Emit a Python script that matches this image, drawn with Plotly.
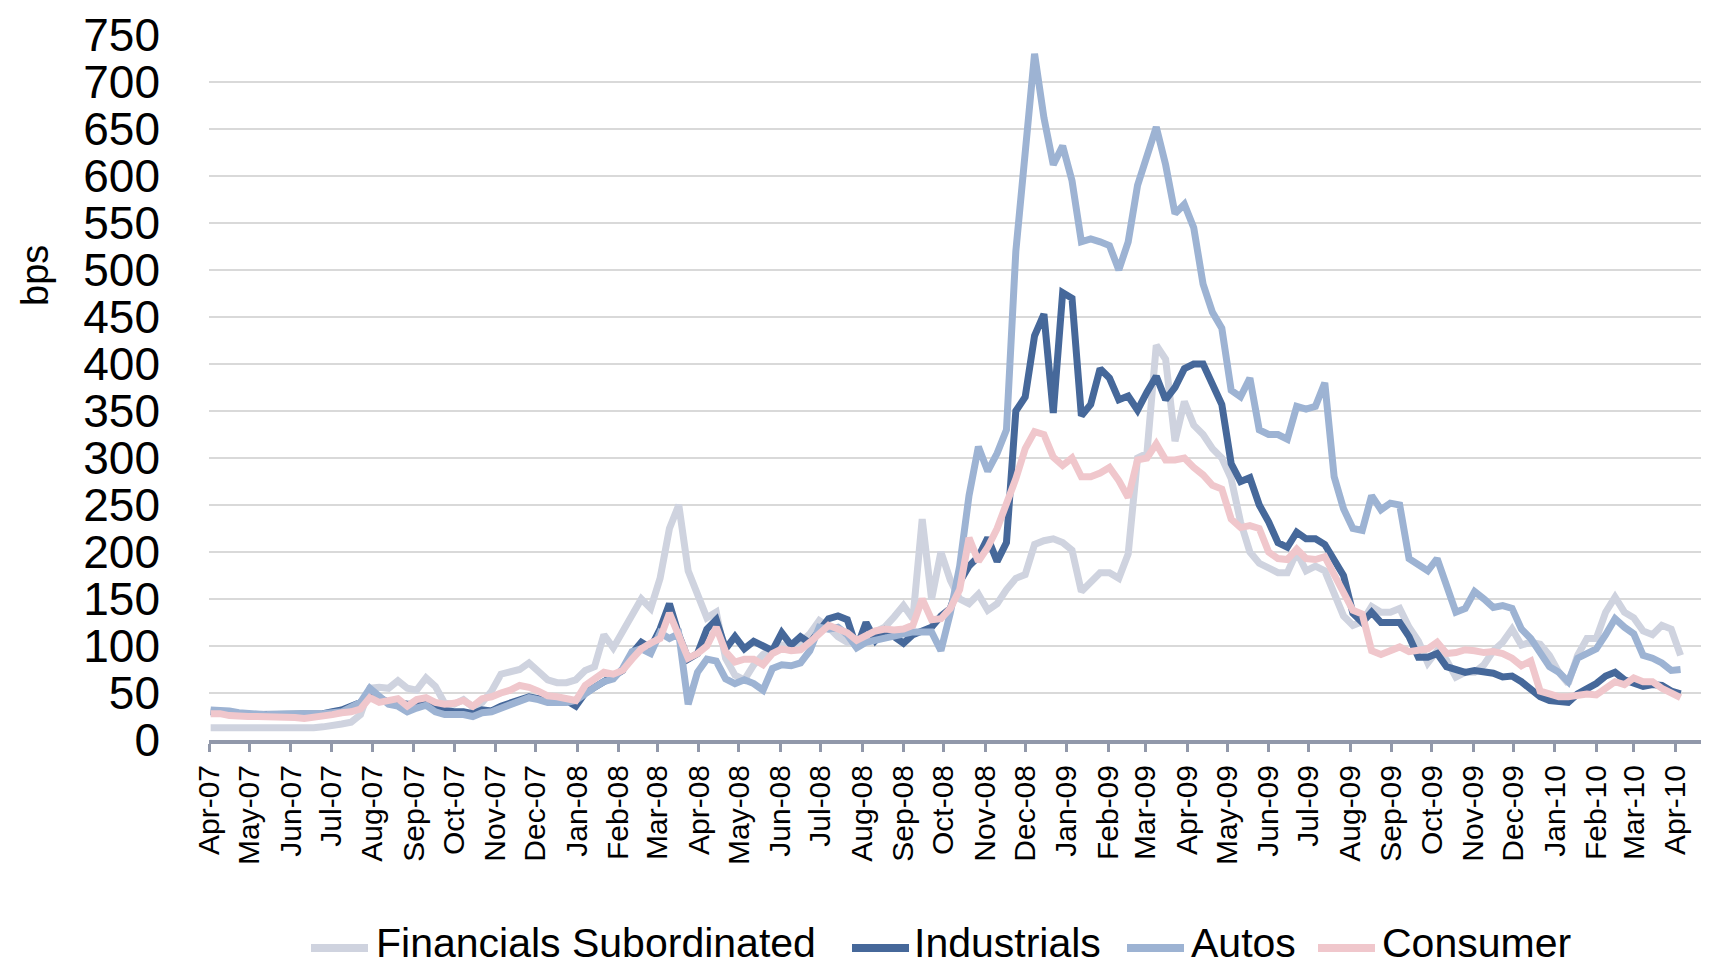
import pandas as pd
import plotly.graph_objects as go

# Weekly observations (bps), starting 2007-04-02
start_date = "2007-04-02"

financials_sub = [
    13, 13, 12, 12, 12, 12, 12, 12, 12, 12,
    12, 13, 14, 15, 17, 19, 27, 55, 56, 55,
    63, 55, 53, 66, 57, 39, 38, 43, 35, 40,
    52, 70, 73, 75, 82, 72, 64, 61, 61, 64,
    74, 78, 112, 98, 115, 134, 150, 140, 172, 225,
    250, 180, 155, 130, 136, 87, 69, 64, 80, 91,
    97, 101, 101, 104, 113, 127, 120, 110, 104, 106,
    110, 115, 120, 131, 143, 129, 235, 150, 200, 170,
    150, 145, 155, 138, 145, 160, 172, 176, 208, 212,
    214, 210, 202, 158, 168, 178, 178, 172, 198, 300,
    305, 420, 405, 318, 360, 335, 325, 310, 300, 278,
    232, 200, 188, 182, 178, 178, 200, 180, 185, 180,
    155, 132, 122, 126, 142, 136, 136, 140, 120, 105,
    82, 95, 85, 67, 72, 72, 80, 95, 104, 118,
    101, 104, 102, 90, 72, 60, 90, 108, 108, 136,
    152, 136, 130, 116, 112, 122, 118, 90,
]

industrials = [
    30, 29, 28, 28, 27, 27, 27, 27, 27, 27,
    27, 28, 28, 30, 32, 36, 40, 50, 46, 40,
    40, 38, 38, 42, 33, 31, 30, 30, 28, 32,
    31, 36, 40, 44, 46, 44, 44, 41, 42, 36,
    50, 56, 62, 68, 74, 92, 104, 98, 118, 145,
    112, 86, 92, 118, 128, 97, 110, 97, 105, 100,
    95, 114, 101, 110, 103, 116, 129, 132, 128, 98,
    125, 106, 117, 110, 103, 112, 117, 120, 132, 140,
    168, 185, 195, 215, 190, 210, 350, 365, 430, 453,
    348, 476, 470, 345, 357, 395, 385, 362, 366, 351,
    370, 387, 362, 375, 395, 400, 400, 378, 357, 294,
    275, 279, 250, 232, 210, 205, 221, 214, 214, 208,
    192, 175, 135, 125, 136, 125, 125, 125, 110, 88,
    88, 92, 78, 74, 72, 74, 72, 71, 67, 68,
    62, 55, 46, 42, 41, 40, 49, 54, 60, 68,
    72, 64, 61, 57, 59, 58, 52, 49,
]

autos = [
    32, 32, 31, 29, 28, 28, 27, 27, 27, 27,
    27, 27, 28, 29, 30, 35, 40, 55, 46, 38,
    36, 30, 34, 37, 30, 27, 27, 27, 25, 29,
    30, 34, 38, 43, 45, 43, 40, 40, 40, 42,
    50, 56, 62, 65, 76, 94, 97, 92, 114, 108,
    113, 38, 72, 86, 84, 65, 60, 64, 60, 53,
    76, 80, 79, 82, 95, 120, 118, 120, 112, 98,
    104, 106, 108, 110, 112, 115, 115, 115, 95, 135,
    185, 260, 312, 286, 305, 330, 520, 626, 730, 662,
    612, 632, 595, 530, 533, 530, 526, 500, 530, 590,
    620, 652, 612, 560, 570, 545, 485, 455, 438, 372,
    365, 385, 330, 325, 325, 320, 355, 352, 355, 380,
    280, 246, 225, 223, 260, 245, 252, 250, 193, 187,
    180, 193, 163, 136, 140, 158, 150, 141, 143, 140,
    118, 108, 93, 78, 72, 62, 87, 91, 97, 112,
    129, 120, 113, 90, 87, 82, 74, 75,
]

consumer = [
    28, 28, 26, 25, 25, 25, 25, 24, 24, 24,
    23, 24, 25, 27, 29, 30, 33, 45, 40, 42,
    44, 36, 43, 45, 40, 38, 39, 42, 36, 44,
    46, 50, 53, 58, 56, 52, 47, 46, 44, 42,
    58, 66, 72, 70, 74, 86, 97, 103, 108, 135,
    113, 87, 92, 100, 120, 94, 83, 86, 86, 80,
    92, 97, 95, 96, 104, 114, 122, 118, 114, 106,
    111, 116, 118, 117, 118, 122, 150, 128, 129, 140,
    160, 215, 190, 205, 225, 250, 278, 310, 328, 325,
    301, 292, 300, 280, 280, 284, 290, 276, 258, 298,
    300, 315, 298, 298, 300, 290, 282, 271, 267, 235,
    226, 228, 225, 200, 193, 192, 203, 193, 192, 195,
    175, 155, 138, 134, 95, 91, 95, 99, 94, 96,
    97, 104, 92, 93, 96, 95, 93, 94, 92, 87,
    79, 84, 52, 49, 46, 46, 48, 49, 48, 56,
    62, 59, 66, 62, 62, 55, 50, 45,
]

series_names = ["Financials Subordinated", "Industrials", "Autos", "Consumer"]
series_values = [financials_sub, industrials, autos, consumer]
series_colors = ["#cfd3df", "#46689a", "#9db3d3", "#f0c7cc"]

y_ticks = list(range(0, 751, 50))

# ---- layout geometry (pixels) ----
W, H = 1709, 963
L, R, T, B = 201, 3, 27, 231
PW, PH = W - L - R, H - T - B


def px_x(px):
    return (px - L) / PW


def px_y(py):
    return (H - B - py) / PH


fig = go.Figure()
for name, vals, col in zip(series_names, series_values, series_colors):
    dates = pd.date_range(start_date, periods=len(vals), freq="7D")
    fig.add_trace(go.Scatter(
        x=dates, y=vals, mode="lines", name=name,
        line=dict(color=col, width=7), showlegend=False,
    ))

fig.update_layout(
    width=W, height=H,
    margin=dict(l=L, r=R, t=T, b=B, autoexpand=False),
    paper_bgcolor="white", plot_bgcolor="white",
    font=dict(family="Liberation Sans, Arial, sans-serif", color="black"),
    showlegend=False,
    xaxis=dict(
        type="date", range=["2007-03-31 18:00", "2010-04-30"],
        dtick="M1", tick0="2007-04-01", tickformat="%b-%y",
        tickangle=-90, tickfont=dict(size=30),
        showgrid=False, zeroline=False,
        showline=True, linecolor="#9198aa", linewidth=4,
        ticks="outside", ticklen=8, tickwidth=3, tickcolor="#9198aa",
        ticklabelstandoff=1,
    ),
    yaxis=dict(
        range=[0, 750], tickvals=y_ticks,
        tickfont=dict(size=46),
        showgrid=True, gridcolor="#d9d9d9", gridwidth=1.5,
        zeroline=False, showline=False, ticks="",
        ticklabelstandoff=48,
    ),
)

fig.add_annotation(
    text="bps", textangle=-90, xref="paper", yref="paper",
    x=px_x(27), y=px_y(268),
    showarrow=False, font=dict(size=38),
    xanchor="center", yanchor="middle",
)

# ---- legend drawn below the axis (sample line + label) ----
legend_sample_px = [(303, 360), (844, 901), (1119, 1176), (1310, 1367)]
legend_text_px = [366, 904, 1181, 1372]
legend_line_y = 940
legend_text_y = 935
for name, col, (x0, x1), tx in zip(series_names, series_colors,
                                   legend_sample_px, legend_text_px):
    fig.add_shape(
        type="line", xref="paper", yref="paper",
        x0=px_x(x0), x1=px_x(x1), y0=px_y(legend_line_y), y1=px_y(legend_line_y),
        line=dict(color=col, width=8),
    )
    fig.add_annotation(
        text=name, xref="paper", yref="paper",
        x=px_x(tx), y=px_y(legend_text_y),
        xanchor="left", yanchor="middle", showarrow=False,
        font=dict(size=41, color="black"),
    )

fig.write_html("out.html")
